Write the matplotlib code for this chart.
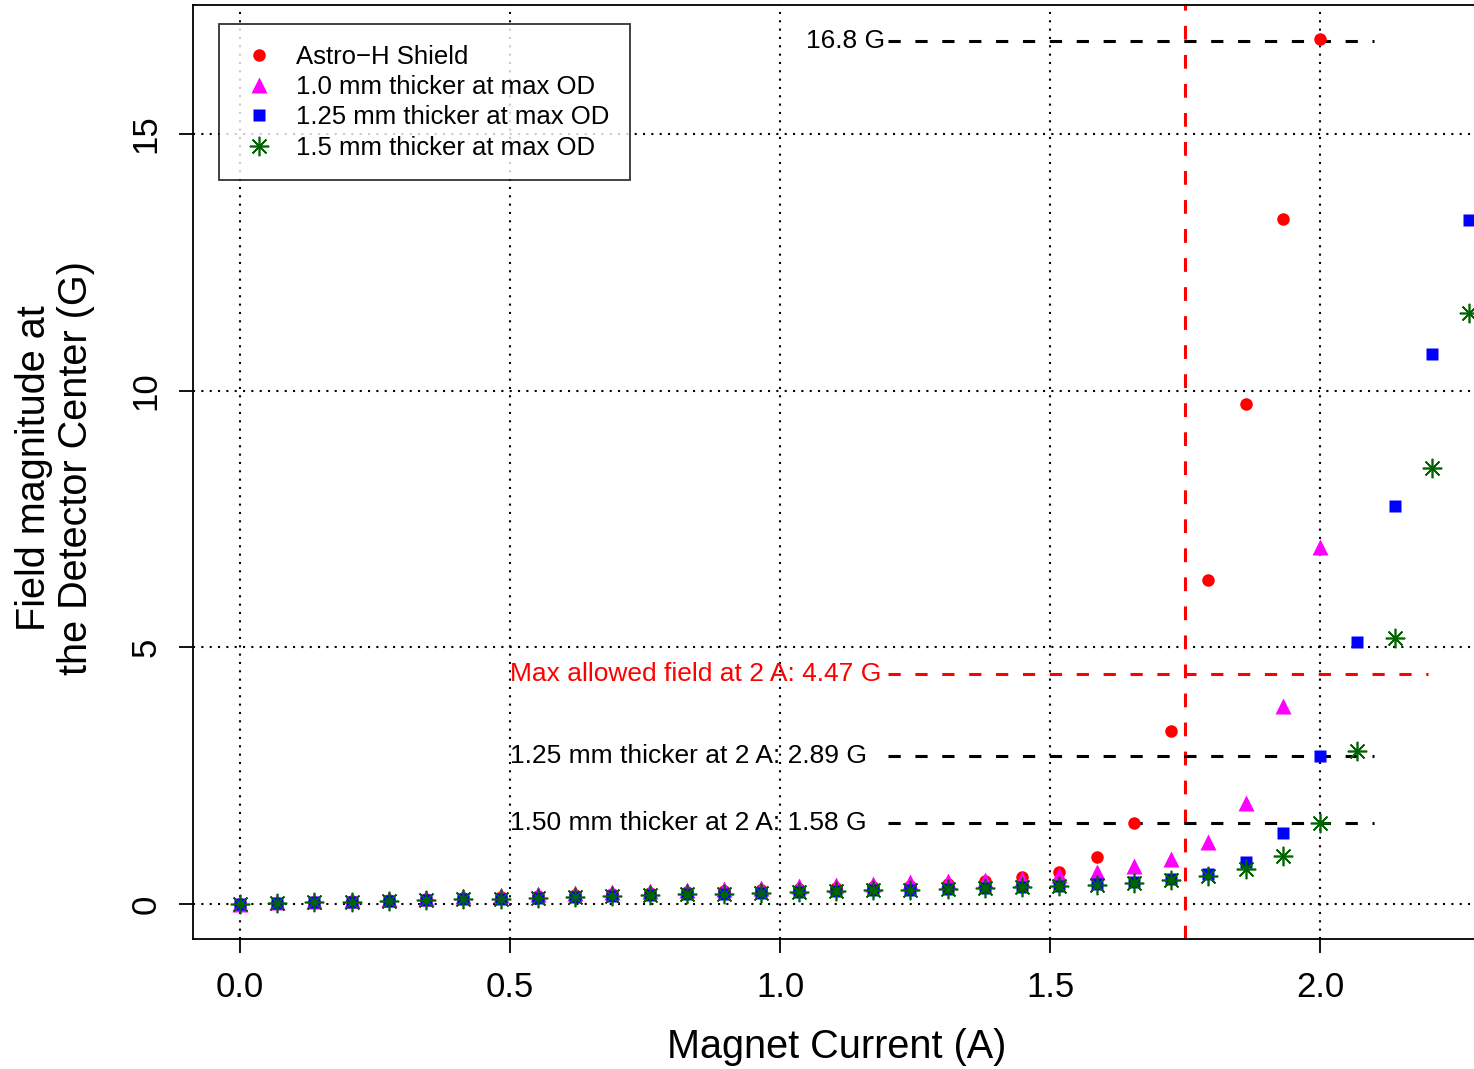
import numpy as np
import matplotlib
matplotlib.use('Agg')
import matplotlib.pyplot as plt

plt.rcParams['font.family'] = ['Liberation Sans', 'DejaVu Sans']

# magnet current steps (A)
current = [i * 2 / 29 for i in range(34)]

# field magnitude at detector center (G)
astro_h = [0.0, 0.01, 0.03, 0.05, 0.07, 0.09, 0.11, 0.13, 0.15, 0.17,
           0.19, 0.21, 0.23, 0.25, 0.27, 0.29, 0.31, 0.33, 0.35, 0.38,
           0.44, 0.52, 0.62, 0.91, 1.58, 3.37, 6.31, 9.74, 13.35, 16.85]
thick_100 = [0.0, 0.03, 0.06, 0.08, 0.10, 0.12, 0.15, 0.17, 0.19, 0.21,
             0.23, 0.26, 0.28, 0.30, 0.32, 0.35, 0.37, 0.39, 0.42, 0.44,
             0.46, 0.49, 0.56, 0.62, 0.74, 0.88, 1.21, 1.97, 3.86, 6.96]
thick_125 = [0.0, 0.015, 0.03, 0.045, 0.06, 0.075, 0.09, 0.105, 0.12, 0.14,
             0.155, 0.17, 0.19, 0.20, 0.22, 0.235, 0.25, 0.265, 0.28, 0.30,
             0.315, 0.33, 0.35, 0.38, 0.42, 0.48, 0.58, 0.82, 1.38, 2.88,
             5.10, 7.75, 10.71, 13.33]
thick_150 = [0.0, 0.015, 0.03, 0.045, 0.06, 0.075, 0.09, 0.105, 0.12, 0.14,
             0.155, 0.17, 0.19, 0.20, 0.22, 0.235, 0.25, 0.265, 0.28, 0.30,
             0.315, 0.33, 0.35, 0.37, 0.41, 0.47, 0.55, 0.68, 0.93, 1.58,
             2.98, 5.18, 8.49, 11.52]

labels = ['Astro\u2212H Shield', '1.0 mm thicker at max OD',
          '1.25 mm thicker at max OD', '1.5 mm thicker at max OD']

field_168 = 16.8
max_allowed = 4.47
at2A_125 = 2.89
at2A_150 = 1.58
limit_current = 1.75

fig = plt.figure(figsize=(14.74, 10.69), dpi=100)
ax = fig.add_axes([193 / 1474, 130 / 1069, (1480 - 193) / 1474, 934 / 1069])

# grid
for gx in [0, 0.5, 1.0, 1.5, 2.0]:
    ax.axvline(gx, color='black', lw=1.5, ls=(0, (1, 3)), zorder=1)
for gy in [0, 5, 10, 15]:
    ax.axhline(gy, color='black', lw=1.5, ls=(0, (1, 3)), zorder=1)

ax.plot(current[:len(astro_h)], astro_h, 'o', color='red', ms=9,
        mec='none', ls='none', label=labels[0], zorder=3)
ax.plot(current[:len(thick_100)], thick_100, '^', color='magenta', ms=12,
        mec='none', ls='none', label=labels[1], zorder=3)
ax.plot(current[:len(thick_125)], thick_125, 's', color='blue', ms=9,
        mec='none', ls='none', label=labels[2], zorder=3)
ax.plot(current[:len(thick_150)], thick_150, marker=(8, 2, 0), color='darkgreen',
        ms=14, mew=1.2, ls='none', label=labels[3], zorder=4)

# reference lines
ax.axvline(limit_current, color='red', lw=2.2, ls=(0, (4.5, 5)), zorder=2)
ax.plot([1.2, 2.2], [max_allowed, max_allowed], color='red', lw=2.2,
        ls=(0, (4, 4.8)), zorder=2)
for yv in [field_168, at2A_125, at2A_150]:
    ax.plot([1.2, 2.1], [yv, yv], color='black', lw=2.2,
            ls=(0, (4, 4.8)), zorder=2)

fs_ann = 19
ax.text(1.195, field_168, '16.8 G', ha='right', va='center', fontsize=fs_ann)
ax.text(0.5, max_allowed, 'Max allowed field at 2 A: 4.47 G', ha='left',
        va='center', fontsize=fs_ann, color='red')
ax.text(0.5, at2A_125, '1.25 mm thicker at 2 A: 2.89 G', ha='left',
        va='center', fontsize=fs_ann)
ax.text(0.5, at2A_150, '1.50 mm thicker at 2 A: 1.58 G', ha='left',
        va='center', fontsize=fs_ann)

ax.set_xlim(-0.087, 2.296)
ax.set_ylim(-0.682, 17.51)
ax.set_xticks([0, 0.5, 1.0, 1.5, 2.0])
ax.set_xticklabels(['0.0', '0.5', '1.0', '1.5', '2.0'])
ax.set_yticks([0, 5, 10, 15])
ax.tick_params(axis='both', labelsize=25, length=10, width=1.3, direction='out')
ax.tick_params(axis='x', pad=13)
ax.tick_params(axis='y', pad=12)
for lab in ax.get_yticklabels():
    lab.set_rotation(90)
    lab.set_va('center')
for sp in ax.spines.values():
    sp.set_linewidth(1.3)

ax.set_xlabel('Magnet Current (A)', fontsize=28.5, labelpad=17)
fig.text(55 / 1474, 1 - 468 / 1069, 'Field magnitude at\nthe Detector Center (G)',
         rotation=90, ha='center', va='center', fontsize=28.5,
         multialignment='center', linespacing=1.15)

leg = ax.legend(loc='upper left', bbox_to_anchor=((219 - 193) / 1287, 1 - 19 / 934),
                fontsize=18.5, frameon=True, fancybox=False, edgecolor='black',
                handletextpad=0.7, borderpad=0.8, labelspacing=0.25,
                handlelength=1.5, borderaxespad=0)
leg.get_frame().set_linewidth(1.3)

fig.savefig('out.png', dpi=100)
